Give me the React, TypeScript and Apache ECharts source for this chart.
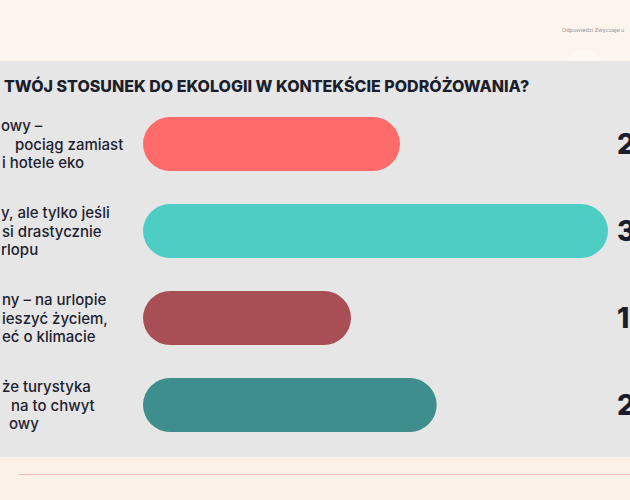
import React, { useEffect, useRef } from "react";
import * as echarts from "echarts";

// Visible (cropped) category label fragments, one line per entry
const categories: string[] = [
  "owy –\npociąg zamiast\ni hotele eko",
  "y, ale tylko jeśli\nsi drastycznie\nrlopu",
  "ny – na urlopie\nieszyć życiem,\neć o klimacie",
  "że turystyka\nna to chwyt\nowy",
];

// Share of answers (%)
const values: number[] = [21, 38, 17, 24];

const barColors: string[] = ["#ff6b6b", "#4ecdc4", "#a84f55", "#3e8e8d"];

const titleText = "TWÓJ STOSUNEK DO EKOLOGII W KONTEKŚCIE PODRÓŻOWANIA?";
const headerNote = "Odpowiedzi Zwyczaje u";

// layout: per-line left indent of the cropped label lines
const lineIndent: number[][] = [
  [0, 14, 1],
  [0, 1, 0],
  [1, 1, 1],
  [1, 10, 8],
];

const FONT = "Inter, 'Noto Sans', sans-serif";

export default function App() {
  const ref = useRef<HTMLDivElement>(null);

  useEffect(() => {
    if (!ref.current) return;
    const chart = echarts.init(ref.current, undefined, { renderer: "svg" });

    const indents = Array.from(new Set(lineIndent.flat()));
    const rich: Record<string, any> = {};
    indents.forEach((n) => {
      rich["p" + n] = {
        padding: [0, 0, 0, n],
        fontSize: 15,
        fontWeight: 500,
        fontFamily: FONT,
        color: "#1e2230",
        lineHeight: 18.5,
      };
    });

    const maxVal = Math.max(...values);

    chart.setOption({
      animation: false,
      backgroundColor: "#fdf4ee",
      title: {
        text: titleText,
        left: -1,
        top: 73,
        textStyle: {
          fontSize: 16,
          fontWeight: 800,
          fontFamily: FONT,
          color: "#1b1f2d",
        },
      },
      graphic: [
        {
          type: "rect",
          z: -10,
          shape: { x: 0, y: 457, width: 630, height: 43 },
          style: { fill: "#fbf1e9" },
        },
        {
          type: "circle",
          z: -9,
          shape: { cx: 584, cy: 72, r: 22 },
          style: { fill: "#fef8f3" },
        },
        {
          type: "rect",
          z: -8,
          shape: { x: 0, y: 61, width: 630, height: 396 },
          style: { fill: "#e6e6e6" },
        },
        {
          type: "line",
          z: -7,
          shape: { x1: 19, y1: 474.5, x2: 630, y2: 474.5 },
          style: { stroke: "#f3bcb8", lineWidth: 1 },
        },
        {
          type: "text",
          x: 562,
          y: 29,
          style: {
            text: headerNote,
            fontSize: 6,
            fontFamily: "Roboto, sans-serif",
            fill: "#9c9a99",
            verticalAlign: "middle",
          },
        },
      ],
      grid: {
        left: 143,
        right: 22,
        top: 100.5,
        bottom: 51.5,
        outerBoundsMode: "none",
      },
      xAxis: {
        type: "value",
        min: 0,
        max: maxVal,
        show: false,
      },
      yAxis: {
        type: "category",
        inverse: true,
        data: categories,
        axisLine: { show: false },
        axisTick: { show: false },
        splitLine: { show: false },
        axisLabel: {
          align: "left",
          margin: 142,
          verticalAlign: "middle",
          formatter: (val: string, idx: number) =>
            val
              .split("\n")
              .map((line, i) => `{p${lineIndent[idx][i]}|${line}}`)
              .join("\n"),
          rich,
        },
      },
      series: [
        {
          type: "bar",
          barWidth: 54,
          data: values.map((v, i) => ({
            value: v,
            itemStyle: { color: barColors[i], borderRadius: 27 },
          })),
          silent: true,
        },
        {
          type: "bar",
          barWidth: 54,
          barGap: "-100%",
          silent: true,
          data: values.map(() => maxVal),
          itemStyle: { color: "rgba(0,0,0,0)" },
          label: {
            show: true,
            position: "right",
            distance: 9,
            formatter: (p: any) => values[p.dataIndex] + "%",
            fontSize: 28,
            fontWeight: 800,
            fontFamily: FONT,
            color: "#1a1d2c",
          },
        },
      ],
    });

    return () => chart.dispose();
  }, []);

  return (
    <div
      ref={ref}
      style={{ position: "fixed", left: 0, top: 0, width: 630, height: 500 }}
    />
  );
}
